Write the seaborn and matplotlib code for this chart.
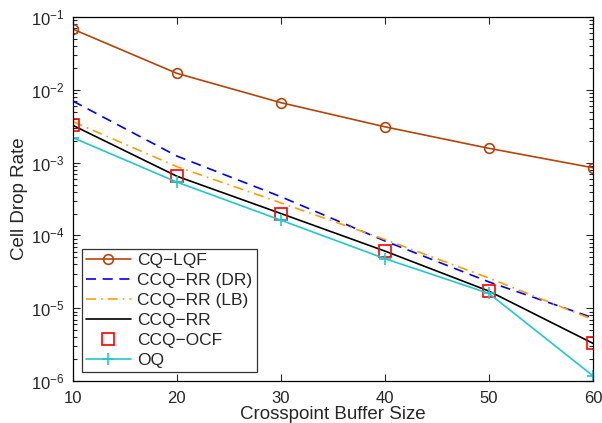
import numpy as np
import pandas as pd
import matplotlib
matplotlib.use('Agg')
import matplotlib.pyplot as plt
import seaborn as sns

# buffer sizes on the x axis
buffer_size = [10, 20, 30, 40, 50, 60]

# drop rates (log scale)
cq_lqf = [6.8e-2, 1.68e-2, 6.65e-3, 3.1e-3, 1.57e-3, 8.5e-4]
ccq_rr_dr = [7.0e-3, 1.23e-3, 3.4e-4, 8.4e-5, 2.3e-5, 7.4e-6]
ccq_rr_lb = [3.65e-3, 8.8e-4, 2.8e-4, 8.8e-5, 2.6e-5, 7.0e-6]
ccq_rr = [3.25e-3, 6.5e-4, 2.0e-4, 6.1e-5, 1.72e-5, 3.3e-6]
ccq_ocf = [3.25e-3, 6.5e-4, 2.0e-4, 6.1e-5, 1.72e-5, 3.3e-6]
oq = [2.2e-3, 5.4e-4, 1.62e-4, 4.8e-5, 1.6e-5, 1.18e-6]

labels = ['CQ\u2212LQF', 'CCQ\u2212RR (DR)', 'CCQ\u2212RR (LB)', 'CCQ\u2212RR', 'CCQ\u2212OCF', 'OQ']

sns.set_style('ticks')
plt.rcParams['font.family'] = ['Liberation Sans', 'DejaVu Sans']
plt.rcParams['mathtext.default'] = 'regular'
plt.rcParams['xtick.direction'] = 'in'
plt.rcParams['ytick.direction'] = 'in'

fig = plt.figure(figsize=(6.02, 4.23), dpi=100)
ax = fig.add_axes([0.121, 0.099, 0.864, 0.861])

brown = '#b5440a'
cyan = '#22c8c8'

sns.lineplot(x=buffer_size, y=cq_lqf, ax=ax, color=brown, lw=1.2, marker='o',
             markersize=7, markerfacecolor='none', markeredgecolor=brown,
             markeredgewidth=1.2, label=labels[0])
sns.lineplot(x=buffer_size, y=ccq_rr_dr, ax=ax, color='#0000ff', lw=1.2,
             dashes=(6, 4), label=labels[1])
sns.lineplot(x=buffer_size, y=ccq_rr_lb, ax=ax, color='#ffa000', lw=1.2,
             dashes=(6, 3, 1, 3), label=labels[2])
sns.lineplot(x=buffer_size, y=ccq_rr, ax=ax, color='black', lw=1.2, label=labels[3])
sns.lineplot(x=buffer_size, y=ccq_ocf, ax=ax, color='red', lw=0, marker='s',
             markersize=8, markerfacecolor='none', markeredgecolor='red',
             markeredgewidth=1.2, label=labels[4])
sns.lineplot(x=buffer_size, y=oq, ax=ax, color=cyan, lw=1.2, marker='+',
             markersize=8, markeredgecolor=cyan, markeredgewidth=1.2,
             label=labels[5])

ax.set_yscale('log')
ax.set_xlim(10, 60)
ax.set_ylim(1e-6, 1e-1)
ax.set_xticks([10, 20, 30, 40, 50, 60])
ax.tick_params(which='both', top=True, right=True, labelsize=12, width=0.8)
ax.tick_params(which='major', length=5)
ax.tick_params(which='minor', length=3)
ax.tick_params(axis='x', pad=7)
ax.tick_params(axis='y', pad=6)
for s in ax.spines.values():
    s.set_linewidth(0.9)
    s.set_color('black')

ax.set_xlabel('Crosspoint Buffer Size', fontsize=13.5, labelpad=0)
ax.set_ylabel('Cell Drop Rate', fontsize=13.5, labelpad=2)

leg = ax.legend(loc='lower left', fontsize=12.5, frameon=True, fancybox=False,
                edgecolor='black', handlelength=2.6, borderaxespad=0.5,
                labelspacing=0.28, handletextpad=0.35, borderpad=0.25)
leg.get_frame().set_linewidth(0.9)

fig.savefig('out.png', dpi=100)
